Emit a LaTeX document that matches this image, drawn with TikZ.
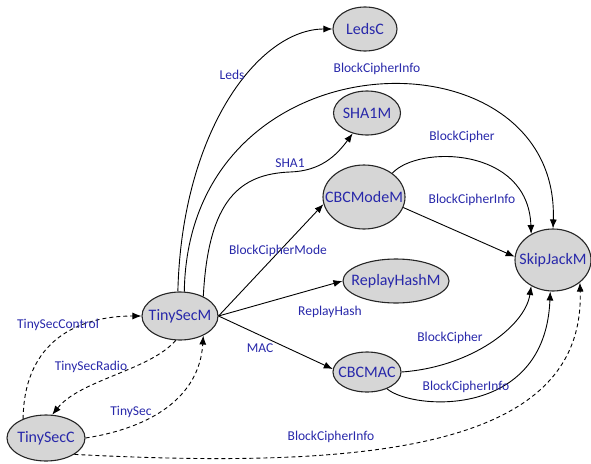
\documentclass[tikz,border=0pt]{standalone}
\usepackage{fontspec}
\setmainfont{Carlito}
\usepackage{tikz}
\usetikzlibrary{arrows.meta}
\usetikzlibrary{shapes}
\definecolor{lblblue}{RGB}{40,40,170}
\definecolor{modgray}{RGB}{214,214,214}
\tikzstyle{module}=[draw=black!85,fill=modgray,ellipse,inner sep=0pt,text=lblblue,font=\fontsize{16}{18}\selectfont,line width=1.1pt]
\tikzstyle{lbl}=[text=lblblue,font=\fontsize{13.5}{15}\selectfont,inner sep=1pt]
\tikzstyle{wire}=[-{Latex[length=9pt,width=7pt]},line width=0.9pt]
\tikzstyle{dwire}=[wire,dash pattern=on 4pt off 3pt]
\newcommand{\modtext}[1]{\makebox[0pt]{#1}}

\begin{document}
\begin{tikzpicture}[x=1pt,y=1pt]
\useasboundingbox (0,0) rectangle (591,-463);

% modules
\node [module,minimum width=64pt,minimum height=44pt] (LedsC) at (365,-29) {\modtext{LedsC}};
\node [module,minimum width=67pt,minimum height=44pt] (SHA1M) at (367,-113) {\modtext{SHA1M}};
\node [module,minimum width=82pt,minimum height=64pt] (CBCModeM) at (364,-197) {\modtext{CBCModeM}};
\node [module,minimum width=106pt,minimum height=44pt] (ReplayHashM) at (396,-281) {\modtext{ReplayHashM}};
\node [module,minimum width=76pt,minimum height=62pt] (SkipJackM) at (553,-260) {\modtext{SkipJackM}};
\node [module,minimum width=68pt,minimum height=40pt] (CBCMAC) at (367,-372) {\modtext{CBCMAC}};
\node [module,minimum width=76pt,minimum height=48pt] (TinySecM) at (180,-316) {\modtext{TinySecM}};
\node [module,minimum width=78pt,minimum height=46pt] (TinySecC) at (46,-438) {\modtext{TinySecC}};

% wires out of TinySecM
\draw[wire] (TinySecM.95) .. controls +(4,162) and +(-73,0) .. (LedsC.west);
\draw[wire] (TinySecM.80) .. controls +(4,262) and +(7,203) .. (SkipJackM.north);
\coordinate (shabend) at (290,-172);
\draw[wire] (TinySecM.40) .. controls +(5,97) and +(-50,-2) .. (shabend)
  .. controls +(30,1) and +(-17,-23) .. (SHA1M.235);
\draw[wire] (TinySecM.east) -- (CBCModeM.190);
\draw[wire] (TinySecM.east) -- (ReplayHashM.west);
\draw[wire] (TinySecM.east) -- (CBCMAC.175);

% into SkipJackM
\draw[wire] (CBCModeM.40) .. controls +(25,28) and +(-3,88) .. (SkipJackM.130);
\draw[wire] (CBCModeM.345) -- (SkipJackM.175);
\draw[wire] (CBCMAC.east) .. controls +(70,5) and +(-6,-40) .. (SkipJackM.230);
\draw[wire] (CBCMAC.320) .. controls +(24,-21) and +(-5,-129) .. (SkipJackM.265);

% dashed ones
\draw[dwire] (TinySecC.330) .. controls +(306,-16) and +(5,-163) .. (SkipJackM.320);
\draw[dwire] (TinySecC.140) .. controls +(1,79) and +(-62,0) .. (TinySecM.west);
\draw[dwire] (TinySecM.260) .. controls +(-26,-30) and +(28,35) .. (TinySecC.75);
\draw[dwire] (TinySecC.east) .. controls +(65,10) and +(-4,-62) .. (TinySecM.-40);

% labels
\node [lbl] (lLeds) at (232,-75) {Leds};
\node [lbl] (lBCItop) at (377,-69) {BlockCipherInfo};
\node [lbl] (lSHA) at (290,-163) {SHA1};
\node [lbl] (lBCM) at (278,-251) {BlockCipherMode};
\node [lbl] (lBCtop) at (462,-137) {BlockCipher};
\node [lbl] (lBCImid) at (472,-200) {BlockCipherInfo};
\node [lbl] (lRH) at (330,-312) {ReplayHash};
\node [lbl] (lMAC) at (260,-348) {MAC};
\node [lbl] (lBCbot) at (450,-338) {BlockCipher};
\node [lbl] (lBCIbot) at (466,-387) {BlockCipherInfo};
\node [lbl] (lBCIdash) at (331,-437) {BlockCipherInfo};
\node [lbl] (lTSCtrl) at (58,-325) {TinySecControl};
\node [lbl] (lTSRadio) at (91,-367) {TinySecRadio};
\node [lbl] (lTS) at (131,-412) {TinySec};

\end{tikzpicture}
\end{document}
